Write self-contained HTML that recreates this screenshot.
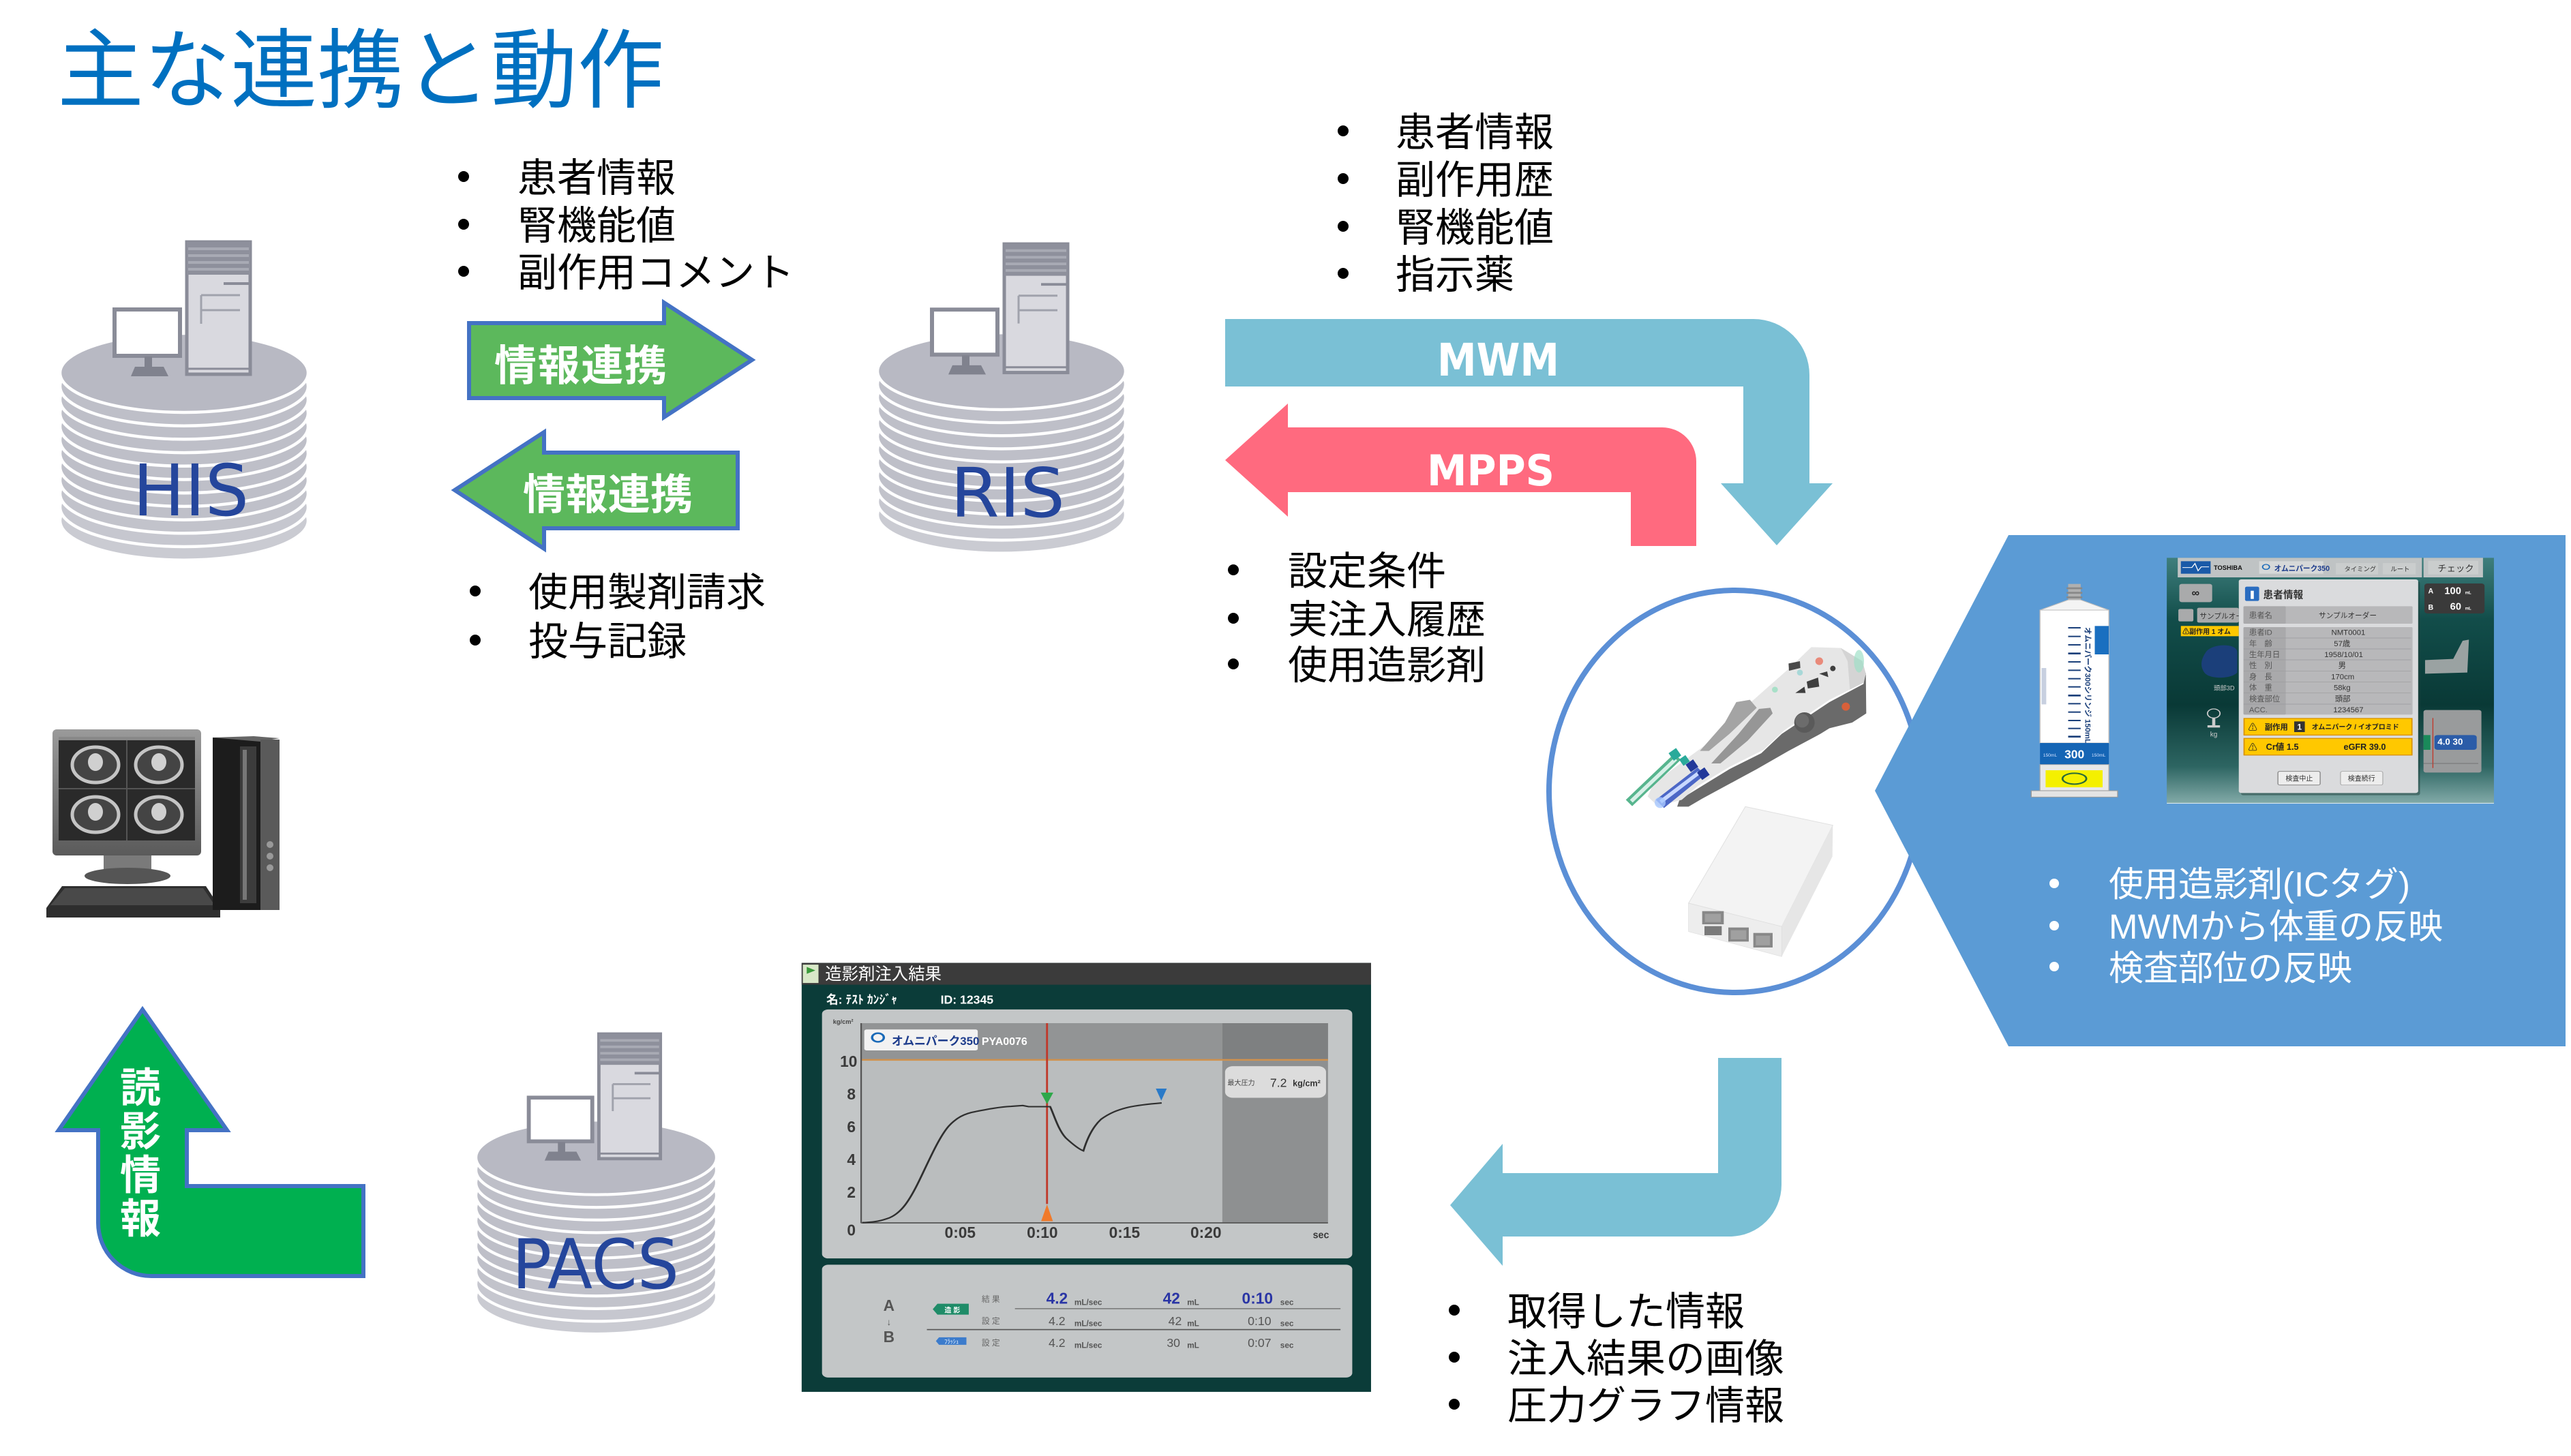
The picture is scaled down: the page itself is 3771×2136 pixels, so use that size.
<!DOCTYPE html>
<html><head><meta charset="utf-8"><style>html,body{margin:0;padding:0;background:#fff;}svg{display:block}</style></head>
<body>
<svg width="3771" height="2136" viewBox="0 0 3771 2136" xmlns="http://www.w3.org/2000/svg" font-family="'Liberation Sans','Noto Sans CJK JP',sans-serif">
<defs>
<g id="cyl">
 <ellipse cx="182" cy="410.7" rx="182" ry="58" fill="#CACBD2" stroke="#fff" stroke-width="4.5"/>
 <ellipse cx="182" cy="391" rx="182" ry="58" fill="#C6C7CF" stroke="#fff" stroke-width="4.5"/>
 <ellipse cx="182" cy="371.3" rx="182" ry="58" fill="#C2C3CB" stroke="#fff" stroke-width="4.5"/>
 <ellipse cx="182" cy="351.6" rx="182" ry="58" fill="#BFC0C9" stroke="#fff" stroke-width="4.5"/>
 <ellipse cx="182" cy="331.9" rx="182" ry="58" fill="#BEBFC8" stroke="#fff" stroke-width="4.5"/>
 <ellipse cx="182" cy="312.2" rx="182" ry="58" fill="#BEBFC8" stroke="#fff" stroke-width="4.5"/>
 <ellipse cx="182" cy="292.5" rx="182" ry="58" fill="#BEBFC8" stroke="#fff" stroke-width="4.5"/>
 <ellipse cx="182" cy="272.8" rx="182" ry="58" fill="#BEBFC8" stroke="#fff" stroke-width="4.5"/>
 <ellipse cx="182" cy="253.1" rx="182" ry="58" fill="#BEBFC8" stroke="#fff" stroke-width="4.5"/>
 <ellipse cx="182" cy="233.4" rx="182" ry="58" fill="#BEBFC8" stroke="#fff" stroke-width="4.5"/>
 <ellipse cx="182" cy="213.7" rx="182" ry="58" fill="#BEBFC8" stroke="#fff" stroke-width="4.5"/>
 <ellipse cx="182" cy="194" rx="182" ry="58" fill="#B8B9C3" stroke="#fff" stroke-width="4.5"/>
 <rect x="186" y="2" width="93" height="194" fill="#D9D9DF" stroke="#8A8C98" stroke-width="5"/>
 <rect x="186" y="2" width="93" height="48" fill="#8E909C"/>
 <rect x="188" y="10" width="89" height="4" fill="#A8AAB4"/>
 <rect x="188" y="20" width="89" height="4" fill="#A8AAB4"/>
 <rect x="188" y="30" width="89" height="4" fill="#A8AAB4"/>
 <rect x="188" y="40" width="89" height="4" fill="#A8AAB4"/>
 <line x1="240" y1="63" x2="278" y2="63" stroke="#8A8C98" stroke-width="4"/>
 <line x1="207" y1="80" x2="264" y2="80" stroke="#A0A2AC" stroke-width="3"/>
 <line x1="207" y1="102" x2="264" y2="102" stroke="#A0A2AC" stroke-width="3"/>
 <line x1="207" y1="80" x2="207" y2="122" stroke="#A0A2AC" stroke-width="3"/>
 <line x1="186" y1="188" x2="279" y2="188" stroke="#8A8C98" stroke-width="3"/>
 <rect x="80" y="101" width="96" height="68" fill="#fff" stroke="#8A8C98" stroke-width="6"/>
 <rect x="124" y="170" width="11" height="16" fill="#80828E"/>
 <polygon points="110,185 152,185 159,199 104,199" fill="#80828E"/>
</g>
<linearGradient id="scr" x1="0" y1="0" x2="0" y2="1">
 <stop offset="0" stop-color="#3f7f7d"/><stop offset="0.25" stop-color="#124d4a"/><stop offset="0.6" stop-color="#093936"/><stop offset="0.85" stop-color="#2d6562"/><stop offset="1" stop-color="#82aaa8"/>
</linearGradient>
<linearGradient id="mon" x1="0" y1="0" x2="0" y2="1"><stop offset="0" stop-color="#9a9a9a"/><stop offset="1" stop-color="#5a5a5a"/></linearGradient>
</defs>

<text x="84" y="148" font-size="127" fill="#0070C0" textLength="890" font-family="'Noto Sans CJK JP',sans-serif">主な連携と動作</text>

<use href="#cyl" transform="translate(88,353)"/>
<use href="#cyl" transform="translate(1287,356) scale(1,0.972)"/>
<use href="#cyl" transform="translate(698,1515) scale(0.97,0.943)"/>
<text x="195" y="756" font-size="104" fill="#25469C" font-family="'DejaVu Sans',sans-serif" textLength="170" lengthAdjust="spacingAndGlyphs">HIS</text>
<text x="1394" y="758" font-size="100" fill="#25469C" font-family="'DejaVu Sans',sans-serif" textLength="168" lengthAdjust="spacingAndGlyphs">RIS</text>
<text x="751" y="1890" font-size="101" fill="#25469C" font-family="'DejaVu Sans',sans-serif" textLength="245" lengthAdjust="spacingAndGlyphs">PACS</text>

<g font-size="58" fill="#000">
<circle cx="680" cy="259" r="8"/><circle cx="680" cy="329" r="8"/><circle cx="680" cy="398" r="8"/>
<text x="759" y="281">患者情報</text>
<text x="759" y="351">腎機能値</text>
<text x="759" y="420">副作用コメント</text>
<circle cx="1970" cy="192" r="8"/><circle cx="1970" cy="262" r="8"/><circle cx="1970" cy="332" r="8"/><circle cx="1970" cy="401" r="8"/>
<text x="2047" y="214">患者情報</text>
<text x="2047" y="284">副作用歴</text>
<text x="2047" y="354">腎機能値</text>
<text x="2047" y="423">指示薬</text>
<circle cx="1809" cy="836" r="8"/><circle cx="1809" cy="907" r="8"/><circle cx="1809" cy="974" r="8"/>
<text x="1889" y="858">設定条件</text>
<text x="1889" y="929">実注入履歴</text>
<text x="1889" y="996">使用造影剤</text>
<circle cx="697" cy="867" r="8"/><circle cx="697" cy="939" r="8"/>
<text x="775" y="889">使用製剤請求</text>
<text x="775" y="961">投与記録</text>
<circle cx="2133" cy="1922" r="8"/><circle cx="2133" cy="1991" r="8"/><circle cx="2133" cy="2060" r="8"/>
<text x="2211" y="1944">取得した情報</text>
<text x="2211" y="2013">注入結果の画像</text>
<text x="2211" y="2082">圧力グラフ情報</text>
</g>

<path d="M688,474 H974 V444 L1103,528 L974,612 V584 H688 Z" fill="#5CB85C" stroke="#4472C4" stroke-width="6"/>
<text x="725" y="558" font-size="62" font-weight="bold" fill="#fff" textLength="253" font-family="'Noto Sans CJK JP',sans-serif">情報連携</text>
<path d="M667,719 L798,634 V664 H1082 V775 H798 V805 Z" fill="#5CB85C" stroke="#4472C4" stroke-width="6"/>
<text x="767" y="747" font-size="62" font-weight="bold" fill="#fff" textLength="249" font-family="'Noto Sans CJK JP',sans-serif">情報連携</text>

<path d="M1797,468 H2572 A82,82 0 0 1 2654,550 V709 H2688 L2606,800 L2524,709 H2557 V567 H1797 Z" fill="#7AC0D5"/>
<text x="2108" y="551" font-size="66" font-weight="bold" fill="#fff" font-family="'DejaVu Sans',sans-serif" textLength="179" lengthAdjust="spacingAndGlyphs">MWM</text>
<path d="M1797,675 L1889,592 V627 H2438 A50,50 0 0 1 2488,677 V801 H2392 V722 H1889 V758 Z" fill="#FF6A7F"/>
<text x="2093" y="712" font-size="62" font-weight="bold" fill="#fff" font-family="'DejaVu Sans',sans-serif" textLength="187" lengthAdjust="spacingAndGlyphs">MPPS</text>

<path d="M2613,1552 V1738 A76,76 0 0 1 2537,1814 H2204 V1857 L2127,1768 L2204,1678 V1721 H2520 V1552 Z" fill="#7AC0D5"/>

<path d="M209,1481 L333,1658 H274 V1740 H533 V1872 H222 A78,78 0 0 1 144,1794 V1658 H86 Z" fill="#00B050" stroke="#4472C4" stroke-width="6"/>
<g font-size="60" font-weight="bold" fill="#fff" text-anchor="middle" font-family="'Noto Sans CJK JP',sans-serif">
<text x="206" y="1617">読</text><text x="206" y="1681">影</text><text x="206" y="1745">情</text><text x="206" y="1809">報</text>
</g>

<g>
 <rect x="77" y="1070" width="218" height="185" rx="6" fill="url(#mon)"/>
 <rect x="86" y="1081" width="200" height="152" fill="#2a2a2a"/>
 <rect x="86" y="1081" width="200" height="5" fill="#888"/>
 <g fill="#444" stroke="#c4c4c4" stroke-width="5">
  <ellipse cx="140" cy="1122" rx="34" ry="26"/><ellipse cx="233" cy="1122" rx="34" ry="26"/>
  <ellipse cx="140" cy="1195" rx="34" ry="26"/><ellipse cx="233" cy="1195" rx="34" ry="26"/>
 </g>
 <g fill="#d0d0d0">
  <ellipse cx="140" cy="1118" rx="11" ry="13"/><ellipse cx="233" cy="1118" rx="11" ry="13"/>
  <ellipse cx="140" cy="1191" rx="11" ry="13"/><ellipse cx="233" cy="1191" rx="11" ry="13"/>
 </g>
 <line x1="186" y1="1086" x2="186" y2="1233" stroke="#555" stroke-width="2"/>
 <line x1="86" y1="1157" x2="286" y2="1157" stroke="#555" stroke-width="2"/>
 <rect x="152" y="1255" width="70" height="22" fill="#7a7a7a"/>
 <ellipse cx="187" cy="1285" rx="63" ry="12" fill="#555"/>
 <polygon points="91,1300 302,1300 323,1332 323,1346 68,1346 68,1332" fill="#2e2e2e"/>
 <polygon points="95,1303 298,1303 315,1328 74,1328" fill="#555" opacity="0.7"/>
 <rect x="312" y="1082" width="70" height="253" fill="#1c1c1c"/>
 <polygon points="312,1082 372,1080 410,1083 382,1088" fill="#666"/>
 <rect x="382" y="1085" width="28" height="250" fill="#5a5a5a"/>
 <rect x="352" y="1095" width="24" height="230" fill="#3c3c3c"/>
 <rect x="356" y="1100" width="6" height="220" fill="#777"/>
 <circle cx="396" cy="1239" r="5" fill="#999"/><circle cx="396" cy="1256" r="5" fill="#999"/><circle cx="396" cy="1273" r="5" fill="#999"/>
</g>

<svg x="1150" y="1400" width="900" height="660" viewBox="0 0 1568 1568" preserveAspectRatio="none">
 <rect x="45" y="30" width="1455" height="1495" fill="#0B3C39"/>
 <rect x="45" y="30" width="1455" height="76" fill="#3b3b3b"/>
 <rect x="48" y="36" width="40" height="64" fill="#d8e8c8"/>
 <polygon points="58,44 80,56 58,68" fill="#3a9a3a"/>
 <text transform="translate(105,88) scale(.733,1)" font-size="58" fill="#fff">造影剤注入結果</text>
 <text transform="translate(108,172) scale(.733,1)" font-size="42" font-weight="bold" fill="#fff">名: ﾃｽﾄ  ｶﾝｼﾞｬ</text>
 <text transform="translate(400,172) scale(.733,1)" font-size="42" font-weight="bold" fill="#fff">ID: 12345</text>
 <rect x="97" y="192" width="1355" height="868" rx="16" fill="#C3C6C7"/>
 <rect x="197" y="240" width="1193" height="695" fill="#BABDBE"/>
 <rect x="197" y="240" width="923" height="126" fill="#929495"/>
 <rect x="1120" y="240" width="270" height="695" fill="#8E9091"/>
 <rect x="1120" y="240" width="270" height="126" fill="#7E8081"/>
 <line x1="197" y1="368" x2="1390" y2="368" stroke="#D0924E" stroke-width="6"/>
 <line x1="197" y1="240" x2="197" y2="937" stroke="#555" stroke-width="4"/>
 <line x1="197" y1="936" x2="1390" y2="936" stroke="#555" stroke-width="4"/>
 <rect x="205" y="262" width="290" height="73" rx="6" fill="#F2F2F2"/>
 <circle cx="240" cy="290" r="15" fill="none" stroke="#1a6ab8" stroke-width="6"/>
 <text transform="translate(275,316) scale(.733,1)" font-size="40" font-weight="bold" fill="#1d3c8c">オムニパーク350</text>
 <text transform="translate(505,316) scale(.733,1)" font-size="38" font-weight="bold" fill="#fff">PYA0076</text>
 <text transform="translate(125,242) scale(.733,1)" font-size="22" font-weight="bold" fill="#444">kg/cm²</text>
 <line x1="672" y1="240" x2="672" y2="870" stroke="#C0392B" stroke-width="5"/>
 <polygon points="656,482 688,482 672,522" fill="#2EA84A"/>
 <polygon points="657,930 687,930 672,872" fill="#F07A2A"/>
 <polygon points="950,468 978,468 964,510" fill="#2A7AC8"/>
 <path d="M200,935 C230,935 250,928 270,918 C300,900 320,860 345,790 C370,720 395,640 420,600 C440,570 460,555 490,548 C520,540 550,532 580,530 L610,527 L625,531 L680,531 C690,560 700,610 720,640 C740,665 755,680 765,685 C775,640 790,600 810,575 C830,555 850,543 880,533 C900,527 930,522 965,518" fill="none" stroke="#2f2f2f" stroke-width="5"/>
 <g font-size="54" font-weight="bold" fill="#3a3a3a" text-anchor="middle">
  <text transform="translate(165,392) scale(.733,1)">10</text>
  <text transform="translate(172,506) scale(.733,1)">8</text>
  <text transform="translate(172,620) scale(.733,1)">6</text>
  <text transform="translate(172,734) scale(.733,1)">4</text>
  <text transform="translate(172,848) scale(.733,1)">2</text>
  <text transform="translate(172,980) scale(.733,1)">0</text>
  <text transform="translate(450,988) scale(.733,1)">0:05</text>
  <text transform="translate(660,988) scale(.733,1)">0:10</text>
  <text transform="translate(870,988) scale(.733,1)">0:15</text>
  <text transform="translate(1078,988) scale(.733,1)">0:20</text>
  <text transform="translate(1372,990) scale(.733,1)" font-size="34">sec</text>
 </g>
 <rect x="1127" y="390" width="258" height="110" rx="20" fill="#DCDCDC"/>
 <text transform="translate(1133,456) scale(.733,1)" font-size="24" fill="#444">最大圧力</text>
 <text transform="translate(1242,462) scale(.733,1)" font-size="42" fill="#333">7.2</text>
 <text transform="translate(1300,460) scale(.733,1)" font-size="30" font-weight="bold" fill="#333">kg/cm²</text>
 <rect x="97" y="1082" width="1355" height="393" rx="16" fill="#C3C6C7"/>
 <g fill="#555" font-weight="bold" text-anchor="middle">
  <text transform="translate(268,1242) scale(.733,1)" font-size="54">A</text>
  <text transform="translate(268,1292) scale(.733,1)" font-size="32">↓</text>
  <text transform="translate(268,1352) scale(.733,1)" font-size="54">B</text>
 </g>
 <path d="M392,1218 H472 V1256 H392 L380,1237 Z" fill="#1F8C68"/>
 <text transform="translate(430,1248) scale(.733,1)" font-size="24" font-weight="bold" fill="#fff" text-anchor="middle">造 影</text>
 <path d="M396,1335 H466 V1361 H396 L388,1348 Z" fill="#3C7CCC"/>
 <text transform="translate(428,1356) scale(.733,1)" font-size="20" fill="#fff" text-anchor="middle">ﾌﾗｯｼｭ</text>
 <g font-size="28" fill="#666">
  <text transform="translate(505,1212) scale(.733,1)">結 果</text>
  <text transform="translate(505,1288) scale(.733,1)">設 定</text>
  <text transform="translate(505,1364) scale(.733,1)">設 定</text>
 </g>
 <line x1="590" y1="1235" x2="1422" y2="1235" stroke="#666" stroke-width="3"/>
 <line x1="365" y1="1308" x2="1422" y2="1308" stroke="#555" stroke-width="4"/>
 <g font-size="54" font-weight="bold" fill="#2A35A5">
  <text transform="translate(670,1218) scale(.733,1)">4.2</text>
  <text transform="translate(968,1218) scale(.733,1)">42</text>
  <text transform="translate(1170,1218) scale(.733,1)">0:10</text>
 </g>
 <g font-size="42" fill="#555">
  <text transform="translate(676,1292) scale(.733,1)">4.2</text>
  <text transform="translate(982,1292) scale(.733,1)">42</text>
  <text transform="translate(1185,1292) scale(.733,1)">0:10</text>
  <text transform="translate(676,1368) scale(.733,1)">4.2</text>
  <text transform="translate(978,1368) scale(.733,1)">30</text>
  <text transform="translate(1185,1368) scale(.733,1)">0:07</text>
 </g>
 <g font-size="28" font-weight="bold" fill="#555">
  <text transform="translate(742,1222) scale(.733,1)">mL/sec</text>
  <text transform="translate(1030,1222) scale(.733,1)">mL</text>
  <text transform="translate(1268,1222) scale(.733,1)">sec</text>
  <text transform="translate(742,1296) scale(.733,1)">mL/sec</text>
  <text transform="translate(1030,1296) scale(.733,1)">mL</text>
  <text transform="translate(1268,1296) scale(.733,1)">sec</text>
  <text transform="translate(742,1372) scale(.733,1)">mL/sec</text>
  <text transform="translate(1030,1372) scale(.733,1)">mL</text>
  <text transform="translate(1268,1372) scale(.733,1)">sec</text>
 </g>
</svg>

<ellipse cx="2545" cy="1161" rx="273" ry="295" fill="#fff" stroke="#5B8FD6" stroke-width="8"/>

<svg x="2350" y="920" width="420" height="500" viewBox="0 0 1260 1500">
 <polygon points="1160,200 1162,380 1100,420 1000,445 960,470 820,545 680,625 440,755 380,790 330,790 340,760 560,625 700,555 790,470 1000,330 1150,250" fill="#6A6A6A"/>
 <polygon points="920,88 1050,92 1145,150 1160,205 1150,245 1000,320 800,455 710,540 560,615 420,700 350,760 245,788 200,745 225,690 330,610 520,470 610,370 700,290 830,175" fill="#E6E6E6"/>
 <polygon points="1050,92 1145,150 1160,205 1150,245 1090,275 1080,150" fill="#D4D4D4"/>
 <ellipse cx="1130" cy="150" rx="22" ry="50" fill="#9fe0c8" opacity="0.7"/>
 <polygon points="590,330 650,320 680,355 560,470 470,545 430,545 540,420" fill="#a4a4a4"/>
 <polygon points="690,360 740,355 750,380 640,500 520,600 480,600 600,470" fill="#969696"/>
 <polygon points="850,290 890,262 895,290" fill="#3f3f3f"/>
 <polygon points="900,240 950,222 955,262 905,270" fill="#3f3f3f"/>
 <polygon points="955,205 990,195 995,220" fill="#3f3f3f"/>
 <circle cx="1015" cy="182" r="12" fill="#3f3f3f"/>
 <polygon points="820,160 870,150 872,180 822,192" fill="#4a4a4a"/>
 <circle cx="955" cy="150" r="17" fill="#E98A7A"/>
 <circle cx="870" cy="200" r="13" fill="#A8D8D8"/>
 <circle cx="760" cy="275" r="13" fill="#A8E0C8"/>
 <circle cx="1072" cy="350" r="18" fill="#D8603A"/>
 <circle cx="890" cy="420" r="45" fill="#5a5a5a"/>
 <circle cx="880" cy="412" r="30" fill="#6c6c6c"/>
 <polygon points="104,760 318,556 346,584 132,788" fill="#3AA87A" opacity="0.85"/>
 <polygon points="122,760 318,575 330,586 134,772" fill="#d8f0e8"/>
 <polygon points="236,760 420,618 452,650 272,796" fill="#3050C0" opacity="0.85"/>
 <polygon points="252,762 420,635 432,646 262,776" fill="#c8d8ff"/>
 <circle cx="255" cy="772" r="24" fill="#a8c8ff" opacity="0.8"/>
 <rect x="300" y="540" width="40" height="40" fill="#2aaa9a" transform="rotate(-35 320 560)"/>
 <rect x="345" y="570" width="34" height="34" fill="#2aaa9a" transform="rotate(-35 362 587)"/>
 <rect x="375" y="590" width="40" height="40" fill="#23399a" transform="rotate(-35 395 610)"/>
 <rect x="425" y="625" width="40" height="40" fill="#23399a" transform="rotate(-35 445 645)"/>
 <polygon points="630,790 1015,872 790,1318 380,1215" fill="#F3F3F3" stroke="#e0e0e0" stroke-width="3"/>
 <polygon points="1015,872 1013,1010 790,1450 790,1318" fill="#E6E6E6"/>
 <polygon points="380,1215 790,1318 790,1450 380,1340" fill="#EDEDED" stroke="#ddd" stroke-width="2"/>
 <rect x="440" y="1250" width="95" height="58" fill="#888"/>
 <rect x="452" y="1262" width="70" height="36" fill="#a0a0a0"/>
 <rect x="450" y="1316" width="76" height="40" fill="#7a7a7a"/>
 <rect x="555" y="1322" width="90" height="62" fill="#888"/>
 <rect x="566" y="1334" width="68" height="40" fill="#a0a0a0"/>
 <rect x="665" y="1346" width="85" height="64" fill="#888"/>
 <rect x="676" y="1358" width="62" height="42" fill="#a0a0a0"/>
</svg>

<polygon points="2750,1160 2946,785 3763,785 3763,1535 2946,1535" fill="#5B9BD5"/>

<svg x="2960" y="800" width="720" height="400" viewBox="0 0 1568 1200" preserveAspectRatio="none">
 <rect x="160" y="170" width="40" height="75" fill="#b0b0b0"/>
 <rect x="155" y="185" width="50" height="8" fill="#888"/>
 <rect x="155" y="205" width="50" height="8" fill="#888"/>
 <rect x="155" y="225" width="50" height="8" fill="#888"/>
 <polygon points="70,285 160,240 200,240 290,285" fill="#F4F4F4" stroke="#bbb" stroke-width="3"/>
 <rect x="70" y="285" width="220" height="585" fill="#fff" stroke="#bbb" stroke-width="3"/>
 <rect x="75" y="540" width="15" height="160" fill="#c8d0e0"/>
 <g fill="#1a3f7a">
  <rect x="160" y="360" width="40" height="6"/><rect x="160" y="398" width="40" height="6"/><rect x="160" y="435" width="40" height="6"/><rect x="160" y="472" width="40" height="8"/>
  <rect x="160" y="510" width="40" height="6"/><rect x="160" y="547" width="40" height="6"/><rect x="160" y="584" width="40" height="6"/><rect x="160" y="620" width="40" height="6"/>
  <rect x="160" y="657" width="40" height="8"/><rect x="160" y="694" width="40" height="6"/><rect x="160" y="731" width="40" height="6"/><rect x="160" y="768" width="40" height="6"/>
  <rect x="160" y="803" width="40" height="6"/><rect x="160" y="838" width="40" height="8"/>
 </g>
 <rect x="245" y="355" width="45" height="125" fill="#1a6fc0"/>
 <text transform="translate(215,360) rotate(90) scale(1,.73)" font-size="34" font-weight="bold" fill="#1a3f7a">オムニパーク300シリンジ 150mL</text>
 <rect x="70" y="870" width="220" height="95" fill="#1565B5"/>
 <text transform="translate(180,938) scale(.73,1)" font-size="52" font-weight="bold" fill="#fff" text-anchor="middle">300</text>
 <text transform="translate(80,930) scale(.73,1)" font-size="20" fill="#cfe0ff">150mL</text>
 <text transform="translate(235,930) scale(.73,1)" font-size="20" fill="#cfe0ff">150mL</text>
 <rect x="70" y="965" width="220" height="115" fill="#E8E8E8" stroke="#aaa" stroke-width="3"/>
 <rect x="88" y="990" width="182" height="75" fill="#F4F000"/>
 <ellipse cx="180" cy="1027" rx="38" ry="24" fill="none" stroke="#2a6a3a" stroke-width="6"/>
 <rect x="42" y="1080" width="276" height="28" fill="#E4E4E4" stroke="#999" stroke-width="3"/>

 <rect x="475" y="55" width="1045" height="1080" fill="url(#scr)"/>
 <rect x="510" y="55" width="780" height="86" fill="#BFC3C4"/>
 <rect x="520" y="70" width="95" height="55" fill="#1a5aa8"/>
 <polyline points="525,98 555,98 565,80 575,112 585,95 610,95" fill="none" stroke="#fff" stroke-width="3"/>
 <text transform="translate(625,108) scale(.726,1)" font-size="28" font-weight="bold" fill="#111">TOSHIBA</text>
 <rect x="770" y="70" width="205" height="55" fill="#D6D8D8"/>
 <circle cx="792" cy="95" r="11" fill="none" stroke="#1a6ab8" stroke-width="4"/>
 <text transform="translate(818,112) scale(.726,1)" font-size="32" font-weight="bold" fill="#1d3c8c">オムニパーク350</text>
 <rect x="1015" y="78" width="135" height="50" fill="#CACDCD"/>
 <text transform="translate(1042,114) scale(.726,1)" font-size="28" fill="#333">タイミング</text>
 <rect x="1165" y="78" width="105" height="50" fill="#CACDCD"/>
 <text transform="translate(1190,114) scale(.726,1)" font-size="28" fill="#333">ルート</text>
 <rect x="1295" y="55" width="190" height="86" fill="#BFC3C4"/>
 <rect x="1310" y="68" width="160" height="60" fill="#CACDCD"/>
 <text transform="translate(1340,116) scale(.726,1)" font-size="40" fill="#333">チェック</text>
 <rect x="515" y="170" width="105" height="80" rx="8" fill="#A9AAAB"/>
 <text transform="translate(567,225) scale(.726,1)" font-size="48" font-weight="bold" fill="#222" text-anchor="middle">∞</text>
 <rect x="512" y="280" width="48" height="55" rx="6" fill="#A9AAAB"/>
 <rect x="572" y="275" width="133" height="65" rx="6" fill="#A9AAAB"/>
 <text transform="translate(580,322) scale(.726,1)" font-size="32" fill="#333">サンプルオー</text>
 <rect x="520" y="355" width="185" height="45" fill="#FFC800"/>
 <text transform="translate(525,390) scale(.726,1)" font-size="30" font-weight="bold" fill="#222">⚠副作用 1 オム</text>
 <path d="M600,470 C620,430 700,430 700,470 L700,560 C680,590 610,590 595,560 C580,530 585,500 600,470 Z" fill="#1b3f7a"/>
 <text transform="translate(625,637) scale(.726,1)" font-size="28" fill="#ccc">頭部3D</text>
 <circle cx="625" cy="740" r="20" fill="none" stroke="#ccc" stroke-width="4"/>
 <rect x="620" y="760" width="10" height="35" fill="#ccc"/>
 <rect x="605" y="792" width="40" height="10" fill="#ccc"/>
 <text transform="translate(625,842) scale(.726,1)" font-size="30" fill="#ccc" text-anchor="middle">kg</text>
 <path d="M1300,505 L1390,500 L1420,420 L1440,415 L1435,560 L1300,565 Z" fill="#9AA2A2"/>
 <rect x="1298" y="168" width="192" height="132" rx="10" fill="#3A3A3A"/>
 <g fill="#fff" font-weight="bold">
  <text transform="translate(1310,212) scale(.726,1)" font-size="32">A</text>
  <text transform="translate(1362,215) scale(.726,1)" font-size="44">100</text>
  <text transform="translate(1428,215) scale(.726,1)" font-size="18">mL</text>
  <text transform="translate(1310,284) scale(.726,1)" font-size="32">B</text>
  <text transform="translate(1380,284) scale(.726,1)" font-size="44">60</text>
  <text transform="translate(1428,284) scale(.726,1)" font-size="18">mL</text>
 </g>
 <rect x="1295" y="725" width="185" height="275" rx="8" fill="#999B9C"/>
 <rect x="1295" y="835" width="22" height="65" fill="#1a8a5a"/>
 <rect x="1330" y="835" width="135" height="65" rx="10" fill="#2B5CA8"/>
 <text transform="translate(1340,878) scale(.726,1)" font-size="40" font-weight="bold" fill="#fff">4.0  30</text>
 <line x1="1325" y1="760" x2="1325" y2="980" stroke="#C0392B" stroke-width="3"/>
 <line x1="1295" y1="960" x2="1470" y2="960" stroke="#666" stroke-width="2"/>
 <rect x="712" y="158" width="572" height="942" rx="8" fill="#1f3f3c" opacity="0.5"/>
 <rect x="705" y="150" width="573" height="940" rx="8" fill="#DADBDD"/>
 <rect x="725" y="182" width="45" height="63" rx="6" fill="#2A6CC0"/>
 <rect x="743" y="200" width="10" height="36" fill="#fff"/>
 <text transform="translate(783,232) scale(.726,1)" font-size="44" font-weight="bold" fill="#333">患者情報</text>
 <rect x="720" y="268" width="540" height="77" rx="4" fill="#B8B8BA"/>
 <rect x="720" y="268" width="135" height="77" rx="4" fill="#A9A9AB"/>
 <text transform="translate(738,320) scale(.726,1)" font-size="34" fill="#555">患者名</text>
 <text transform="translate(1053,320) scale(.726,1)" font-size="32" fill="#333" text-anchor="middle">サンプルオーダー</text>
 <rect x="720" y="360" width="540" height="385" rx="4" fill="#B8B8BA"/>
 <rect x="720" y="360" width="135" height="385" rx="4" fill="#A9A9AB"/>
 <g stroke="#9a9a9c" stroke-width="2">
  <line x1="720" y1="408" x2="1255" y2="408"/><line x1="720" y1="456" x2="1255" y2="456"/><line x1="720" y1="504" x2="1255" y2="504"/>
  <line x1="720" y1="553" x2="1255" y2="553"/><line x1="720" y1="602" x2="1255" y2="602"/><line x1="720" y1="650" x2="1255" y2="650"/><line x1="720" y1="699" x2="1255" y2="699"/>
 </g>
 <g font-size="34" fill="#555">
  <text transform="translate(738,395) scale(.726,1)">患者ID</text>
  <text transform="translate(738,444) scale(.726,1)">年　齢</text>
  <text transform="translate(738,492) scale(.726,1)">生年月日</text>
  <text transform="translate(738,540) scale(.726,1)">性　別</text>
  <text transform="translate(738,590) scale(.726,1)">身　長</text>
  <text transform="translate(738,638) scale(.726,1)">体　重</text>
  <text transform="translate(738,687) scale(.726,1)">検査部位</text>
  <text transform="translate(738,735) scale(.726,1)">ACC.</text>
 </g>
 <g font-size="34" fill="#333" text-anchor="middle">
  <text transform="translate(1055,395) scale(.726,1)">NMT0001</text>
  <text transform="translate(1035,444) scale(.726,1)">57歳</text>
  <text transform="translate(1040,492) scale(.726,1)">1958/10/01</text>
  <text transform="translate(1035,540) scale(.726,1)">男</text>
  <text transform="translate(1037,590) scale(.726,1)">170cm</text>
  <text transform="translate(1035,638) scale(.726,1)">58kg</text>
  <text transform="translate(1037,687) scale(.726,1)">頭部</text>
  <text transform="translate(1055,735) scale(.726,1)">1234567</text>
 </g>
 <rect x="722" y="762" width="536" height="73" fill="#FFC800" stroke="#D89200" stroke-width="4"/>
 <text transform="translate(735,815) scale(.726,1)" font-size="40" fill="#222">⚠</text>
 <text transform="translate(788,812) scale(.726,1)" font-size="34" font-weight="bold" fill="#222">副作用</text>
 <rect x="882" y="775" width="34" height="47" fill="#333"/>
 <text transform="translate(899,812) scale(.726,1)" font-size="36" font-weight="bold" fill="#fff" text-anchor="middle">1</text>
 <text transform="translate(938,810) scale(.726,1)" font-size="30" font-weight="bold" fill="#222">オムニパーク / イオプロミド</text>
 <rect x="722" y="850" width="536" height="73" fill="#FFC800" stroke="#D89200" stroke-width="4"/>
 <text transform="translate(735,903) scale(.726,1)" font-size="40" fill="#222">⚠</text>
 <text transform="translate(792,900) scale(.726,1)" font-size="38" font-weight="bold" fill="#222">Cr値  1.5</text>
 <text transform="translate(1040,900) scale(.726,1)" font-size="38" font-weight="bold" fill="#222">eGFR  39.0</text>
 <rect x="830" y="995" width="135" height="60" rx="6" fill="#EDEDED" stroke="#888" stroke-width="3"/>
 <text transform="translate(898,1036) scale(.726,1)" font-size="30" fill="#333" text-anchor="middle">検査中止</text>
 <rect x="1030" y="995" width="135" height="60" rx="6" fill="#EDEDED" stroke="#999" stroke-width="2"/>
 <text transform="translate(1097,1036) scale(.726,1)" font-size="30" fill="#333" text-anchor="middle">検査続行</text>
 <line x1="475" y1="1135" x2="1520" y2="1135" stroke="#e8f0f0" stroke-width="3"/>
</svg>

<g fill="#fff" font-size="51">
<circle cx="3013" cy="1296" r="7"/><circle cx="3013" cy="1358" r="7"/><circle cx="3013" cy="1418" r="7"/>
<text x="3093" y="1315">使用造影剤(ICタグ)</text>
<text x="3093" y="1377">MWMから体重の反映</text>
<text x="3093" y="1438">検査部位の反映</text>
</g>
</svg>
</body></html>
